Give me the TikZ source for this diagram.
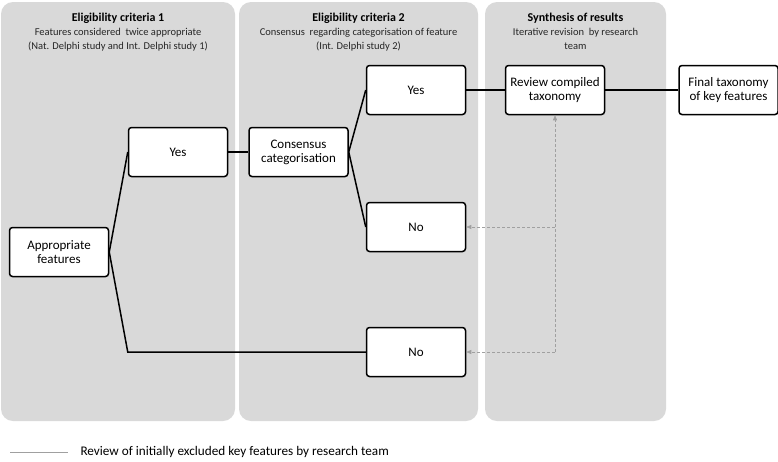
\documentclass[tikz,border=0pt]{standalone}
\usepackage{fontspec}
\setmainfont{Carlito}
\usetikzlibrary{positioning,arrows.meta}
\definecolor{panelgray}{HTML}{D9D9D9}
\definecolor{reviewgray}{HTML}{A0A0A0}

\begin{document}
\begin{tikzpicture}[
        x=1pt, y=-1pt,
        panel/.style={rectangle, rounded corners=12pt, fill=panelgray, minimum height=419pt},
        heading/.style={align=center, font=\fontsize{10.5}{14}\selectfont, text=black!85},
        box/.style={rectangle, draw, line width=1.5pt, rounded corners=3pt, fill=white, minimum width=99pt, minimum height=49pt, align=center, font=\fontsize{13}{14}\selectfont},
        link/.style={line width=1.5pt},
        review/.style={-{Triangle[length=5pt,width=4pt]}, reviewgray, densely dashed, line width=0.6pt}
    ]
        \useasboundingbox (0,0) rectangle (778,461);

        % Panels
        \node[panel, minimum width=234pt] (crit1) at (118,211.5) {};
        \node[panel, minimum width=239pt] (crit2) at (358.5,211.5) {};
        \node[panel, minimum width=181pt] (synth) at (575.5,211.5) {};

        % Panel headings
        \node[heading, below=8pt of crit1.north] (crit1title) {{\fontsize{12}{14}\selectfont\bfseries\color{black} Eligibility criteria 1}\\Features considered\ \ twice appropriate\\(Nat. Delphi study and Int. Delphi study 1)};
        \node[heading, below=8pt of crit2.north] (crit2title) {{\fontsize{12}{14}\selectfont\bfseries\color{black} Eligibility criteria 2}\\Consensus\ \ regarding categorisation of feature\\(Int. Delphi study 2)};
        \node[heading, below=8pt of synth.north] (synthtitle) {{\fontsize{12}{14}\selectfont\bfseries\color{black} Synthesis of results}\\Iterative revision\ \ by research\\team};

        % Boxes
        \node[box] (appropriate) at (59,252) {Appropriate\\features};
        \node[box] (yes1) at (178,152) {Yes};
        \node[box, right=20pt of yes1] (consensus) {Consensus\\categorisation};
        \node[box] (yes2) at (416,90) {Yes};
        \node[box] (no1) at (416,227) {No};
        \node[box] (no2) at (416,352) {No};
        \node[box] (compiled) at (555,90) {Review compiled\\taxonomy};
        \node[box, right=73pt of compiled] (final) {Final taxonomy\\of key features};

        % Connectors
        \draw[link] (appropriate.east) -- (yes1.west);
        \draw[link] (appropriate.east) -- (yes1.west |- no2.west) -- (no2.west);
        \draw[link] (yes1) -- (consensus);
        \draw[link] (consensus.east) -- (yes2.west);
        \draw[link] (consensus.east) -- (no1.west);
        \draw[link] (yes2) -- (compiled);
        \draw[link] (compiled) -- (final);

        % Review of excluded features
        \coordinate (turn) at (compiled.south |- no2.east);
        \coordinate (branch) at (compiled.south |- no1.east);
        \draw[review] (turn) -- (no2.east);
        \draw[review] (branch) -- (no1.east);
        \draw[review] (turn) -- (compiled.south);

        % Legend
        \coordinate (legendstart) at (10,452);
        \node[anchor=west, font=\fontsize{13.2}{14}\selectfont] (legendtext) at (77,452) {Review of initially excluded\ key features by research team};
        \draw[reviewgray, line width=0.6pt, shorten >=9pt] (legendstart) -- (legendtext.west);

    \end{tikzpicture}
\end{document}
